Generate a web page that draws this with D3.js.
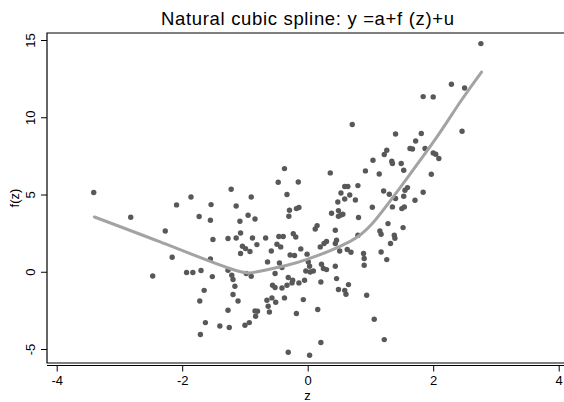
<!DOCTYPE html>
<html>
<head>
<meta charset="utf-8">
<script src="https://cdn.jsdelivr.net/npm/d3@7"></script>
<style>
  html, body { margin: 0; padding: 0; background: #fff; }
  svg { display: block; }
  text { font-family: "Liberation Sans", Arial, sans-serif; fill: #000; }
</style>
</head>
<body>
<svg id="chart" width="564" height="402"></svg>
<script>
// ---- data ----
const zValues = [
  -3.41,-2.82,-2.09,-1.86,-1.54,-1.73,-1.55,-2.27,-1.51,-1.27,-2.16,-1.55,-2.47,-1.93,-1.83,-1.70,-1.52,-1.27,-1.65,-1.72,
  -1.27,-1.63,-1.40,-1.25,-1.71,-1.22,0.71,1.26,1.22,1.04,-0.37,0.36,0.92,1.14,-0.47,-0.15,-0.90,-0.33,0.59,0.64,
  0.53,0.67,0.59,0.80,0.76,0.48,1.21,-1.14,-0.14,-0.18,-0.29,-0.30,-0.95,-0.84,-1.08,0.38,0.49,0.53,0.56,0.49,
  1.03,0.81,1.28,0.15,0.12,0.44,-1.07,-1.14,-0.88,-0.67,-0.46,-0.39,-0.23,-0.19,-1.04,-0.99,-0.92,-0.81,-0.49,-0.43,
  -0.58,-0.11,-1.07,-0.28,-0.21,0.20,0.26,0.30,0.46,0.44,0.51,0.63,0.69,1.15,1.17,0.80,-0.01,0.89,0.90,0.90,
  1.17,1.26,-1.21,-1.19,-0.98,-0.90,-0.64,-0.52,-0.45,-0.41,0.01,0.03,-0.03,0.04,0.09,0.22,0.25,0.30,0.44,-1.16,
  -1.19,-1.11,-0.56,-0.52,-0.41,-0.33,-0.31,-0.25,-0.24,-0.14,-0.05,0.21,0.46,0.65,0.59,0.61,0.49,-0.65,-0.57,-0.51,
  -0.37,-0.07,-0.63,-0.61,-0.84,-0.80,-0.83,-0.18,0.16,0.94,1.06,1.22,-1.00,-0.93,0.21,-0.31,0.03,2.76,2.29,2.50,
  1.84,2.00,2.46,1.40,1.81,1.72,1.63,1.67,1.87,2.00,2.04,2.09,1.34,1.35,1.49,1.53,1.97,1.30,1.59,1.55,
  1.53,1.84,1.71,1.40,1.35,1.50,1.54,1.52,1.38,1.39,1.32
];
const fValues = [
  5.16,3.56,4.36,4.87,4.38,3.61,3.37,2.67,2.12,2.18,0.97,0.86,-0.24,-0.02,-0.02,0.11,-0.28,0.13,-1.17,-1.86,
  -2.46,-3.26,-3.48,-3.58,-4.03,5.37,9.56,7.90,7.62,7.25,6.71,6.43,6.56,6.36,5.83,5.84,4.87,5.03,5.55,5.55,
  5.13,5.00,4.74,5.61,4.68,4.55,5.26,4.29,4.19,4.12,4.01,3.62,3.69,3.45,3.30,3.82,3.99,3.71,3.75,3.62,
  4.21,3.54,3.15,3.02,2.80,2.72,2.54,2.22,2.22,2.22,2.31,2.31,2.50,2.28,1.68,1.53,1.34,1.79,1.81,1.64,
  1.38,1.51,1.21,1.12,1.08,1.64,1.86,1.99,2.07,1.86,1.38,1.47,1.29,2.67,2.46,2.39,1.17,1.21,0.89,0.45,
  1.31,0.82,-0.19,-0.47,-0.08,-0.26,0.67,-0.08,0.60,0.30,0.67,0.39,0.08,0.02,0.08,0.52,0.24,0.17,0.39,-0.91,
  -1.44,-1.86,-0.84,-0.99,-1.02,-0.84,-0.34,-0.69,-0.52,-0.69,-0.52,-0.63,-0.41,-0.80,-1.17,-1.42,-1.12,-1.81,-1.66,-1.94,
  -1.66,-1.77,-2.20,-2.57,-2.50,-2.52,-2.85,-2.67,-2.41,-1.49,-3.04,-4.36,-3.43,-3.26,-4.55,-5.18,-5.37,14.80,12.17,11.93,
  11.37,11.35,9.13,8.95,8.98,8.50,8.01,7.98,8.01,7.72,7.64,7.36,7.18,7.04,7.04,6.60,6.34,5.05,5.48,5.31,
  4.92,5.18,4.66,4.77,4.23,4.12,4.23,2.89,2.39,2.20,1.86
];
// fitted natural cubic spline
const splineZ = [-3.40, -2.35, -1.24, -0.80, -0.33, 0.00, 0.36, 0.67, 1.00, 1.52, 2.06, 2.43, 2.77];
const splineF = [ 3.58,  1.96,  0.24,  0.03,  0.45, 0.85, 1.40, 1.98, 3.02, 5.74, 8.76, 11.02, 12.96];
const xTicks = [-4, -2, 0, 2, 4];
const yTicks = [-5, 0, 5, 10, 15];
const titleText = "Natural cubic spline: y =a+f (z)+u";
const xTitle = "z";
const yTitle = "f(z)";

// ---- drawing ----
const svg = d3.select("#chart");
svg.append("rect").attr("width", 564).attr("height", 402).attr("fill", "#fff");

const plot = { left: 47, top: 33, bottom: 363, right: 566 };
const x = d3.scaleLinear().domain([-4, 4]).range([56.7, 558.7]);
const y = d3.scaleLinear().domain([-5, 15]).range([349.5, 40.5]);

// title
svg.append("text").attr("x", 307.5).attr("y", 25).attr("text-anchor", "middle")
  .attr("textLength", 293).attr("lengthAdjust", "spacing")
  .style("font-size", "18.5px").text(titleText);

// plot region frame
svg.append("path")
  .attr("d", `M${plot.right},${plot.top}H${plot.left}V${plot.bottom}H${plot.right}`)
  .attr("fill", "none").attr("stroke", "#000").attr("stroke-width", 1.2);

// points
const pts = zValues.map((z, i) => ({ z, f: fValues[i] }));
svg.append("g").selectAll("circle").data(pts).join("circle")
  .attr("cx", d => x(d.z)).attr("cy", d => y(d.f)).attr("r", 2.7)
  .attr("fill", "#585858");

// spline
const line = d3.line().x((d, i) => x(splineZ[i])).y(d => y(d)).curve(d3.curveNatural);
svg.append("path").datum(splineF).attr("d", line)
  .attr("fill", "none").attr("stroke", "#a3a3a3").attr("stroke-width", 3)
  .attr("stroke-linecap", "round");

// x axis
const xAxis = d3.axisBottom(x).tickValues(xTicks).tickSize(6).tickPadding(4)
  .tickFormat(d => d < 0 ? "-" + Math.abs(d) : d);
const gx = svg.append("g").attr("transform", "translate(0,365.5)").call(xAxis);
gx.select(".domain").attr("d", `M${plot.left},0H${plot.right}`).attr("stroke-width", 1.2);
gx.selectAll("text").style("font-size", "13px").style("font-family", '"Liberation Sans", Arial, sans-serif').attr("fill", "#000");

// y axis
const yAxis = d3.axisLeft(y).tickValues(yTicks).tickSize(6).tickFormat(d => d < 0 ? "-" + Math.abs(d) : d);
const gy = svg.append("g").attr("transform", `translate(${plot.left},0)`).call(yAxis);
gy.select(".domain").remove();
gy.selectAll("text")
  .attr("x", null).attr("dy", null)
  .attr("text-anchor", "middle")
  .attr("transform", d => `translate(-12,${y(d)}) rotate(-90)`)
  .attr("y", 0)
  .attr("dy", "0")
  .style("font-size", "13px").style("font-family", '"Liberation Sans", Arial, sans-serif').attr("fill", "#000");
gy.selectAll(".tick").attr("transform", null);
gy.selectAll(".tick line").attr("y1", d => y(d)).attr("y2", d => y(d)).attr("x2", -6);

// axis titles
svg.append("text").attr("x", 307.5).attr("y", 400).attr("text-anchor", "middle")
  .style("font-size", "13px").text(xTitle);
svg.append("text").attr("transform", "translate(19,198) rotate(-90)").attr("text-anchor", "middle")
  .style("font-size", "13px").text(yTitle);
</script>
</body>
</html>
